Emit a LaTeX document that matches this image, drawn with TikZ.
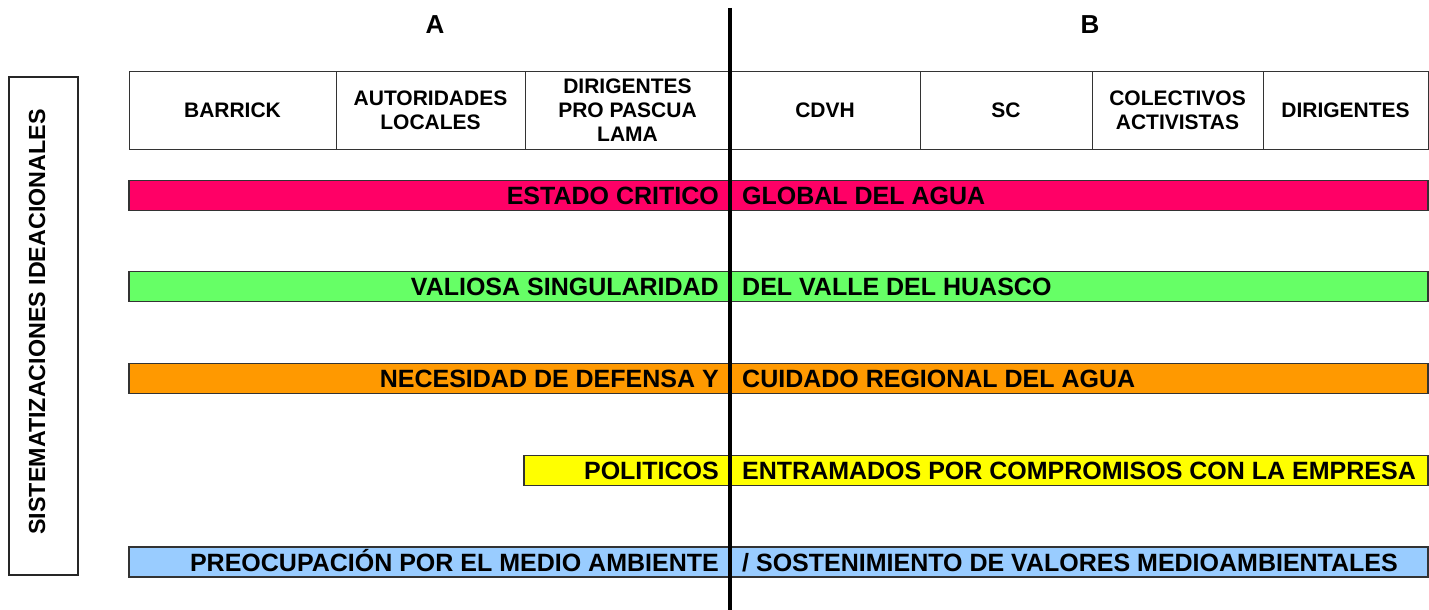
\documentclass[tikz,border=0pt]{standalone}
\usepackage{fontspec}
\setmainfont{Liberation Sans}
\usetikzlibrary{positioning}
\definecolor{rojo}{HTML}{FF0066}
\definecolor{verde}{HTML}{66FF66}
\definecolor{naranjo}{HTML}{FF9900}
\definecolor{amarillo}{HTML}{FFFF00}
\definecolor{celeste}{HTML}{99CCFF}
\tikzset{
  actor cell/.style={
    draw=black!80,
    line width=1pt,
    outer sep=0pt,
    inner sep=0pt,
    minimum height=77pt,
    align=center,
    font=\bfseries\fontsize{21}{24}\selectfont,
  },
  bar/.style={
    draw=black!80,
    line width=1.3pt,
    outer sep=0pt,
    inner sep=0pt,
    minimum height=30pt,
  },
  bar text/.style={
    inner sep=0pt,
    text height=18pt,
    text depth=0pt,
    font=\bfseries\fontsize{25}{29}\selectfont,
  },
}

\begin{document}
\begin{tikzpicture}[x=1pt, y=-1pt]
        \useasboundingbox (0,0) rectangle (1429,610);

        \node[font=\bfseries\fontsize{26}{30}\selectfont] (A) at (435,25) {A};
        \node[font=\bfseries\fontsize{26}{30}\selectfont] (B) at (1090,25) {B};

        \node[draw=black!85, line width=1.3pt, minimum width=498pt, minimum height=69pt, rotate=90] (ideasbox) at (43.5,326) {};
        \node[rotate=90, font=\bfseries\fontsize{23.3}{27}\selectfont] (ideas) at (37,322) {SISTEMATIZACIONES IDEACIONALES};

        \node[actor cell, minimum width=207pt, anchor=north west] (barrick) at (129,72) {BARRICK};
        \node[actor cell, minimum width=189pt, right=0pt of barrick] (autoridades) {AUTORIDADES\\LOCALES};
        \node[actor cell, minimum width=205pt, right=0pt of autoridades] (pro) {DIRIGENTES\\PRO PASCUA\\LAMA};
        \node[actor cell, minimum width=190pt, right=0pt of pro] (cdvh) {CDVH};
        \node[actor cell, minimum width=172pt, right=0pt of cdvh] (sc) {SC};
        \node[actor cell, minimum width=171pt, right=0pt of sc] (colectivos) {COLECTIVOS\\ACTIVISTAS};
        \node[actor cell, minimum width=165pt, right=0pt of colectivos] (dirigentes) {DIRIGENTES};

        \node[bar, fill=rojo    , minimum width=1299pt, anchor=west] (critico)   at (129,195.5) {};
        \node[bar, fill=verde   , minimum width=1299pt, anchor=west] (valle)     at (129,286.5) {};
        \node[bar, fill=naranjo , minimum width=1299pt, anchor=west] (defensa)   at (129,378.5) {};
        \node[bar, fill=amarillo, minimum width=904pt , anchor=west] (politicos) at (524,470.5) {};
        \node[bar, fill=celeste , minimum width=1299pt, anchor=west] (ambiente)  at (129,562) {};

        \node[bar text, anchor=east] (criticoA)   at (719,195.5) {ESTADO CRITICO};
        \node[bar text, anchor=west] (criticoB)   at (742,195.5) {GLOBAL DEL AGUA};
        \node[bar text, anchor=east] (valleA)     at (719,286.5) {VALIOSA SINGULARIDAD};
        \node[bar text, anchor=west] (valleB)     at (742,286.5) {DEL VALLE DEL HUASCO};
        \node[bar text, anchor=east] (defensaA)   at (719,378.5) {NECESIDAD DE DEFENSA Y};
        \node[bar text, anchor=west] (defensaB)   at (742,378.5) {CUIDADO REGIONAL DEL AGUA};
        \node[bar text, anchor=east] (politicosA) at (719,470.5) {POLITICOS};
        \node[bar text, anchor=west] (politicosB) at (742,470.5) {ENTRAMADOS POR COMPROMISOS CON LA EMPRESA};
        \node[bar text, anchor=east] (ambienteA)  at (719,562) {PREOCUPACIÓN POR EL MEDIO AMBIENTE};
        \node[bar text, anchor=west] (ambienteB)  at (742,562) {/ SOSTENIMIENTO DE VALORES MEDIOAMBIENTALES};

        \coordinate (divtop) at (730,8);
        \coordinate (divbottom) at (730,610);
        \draw[line width=3.5pt] (divtop) -- (divbottom);
      \end{tikzpicture}
\end{document}
